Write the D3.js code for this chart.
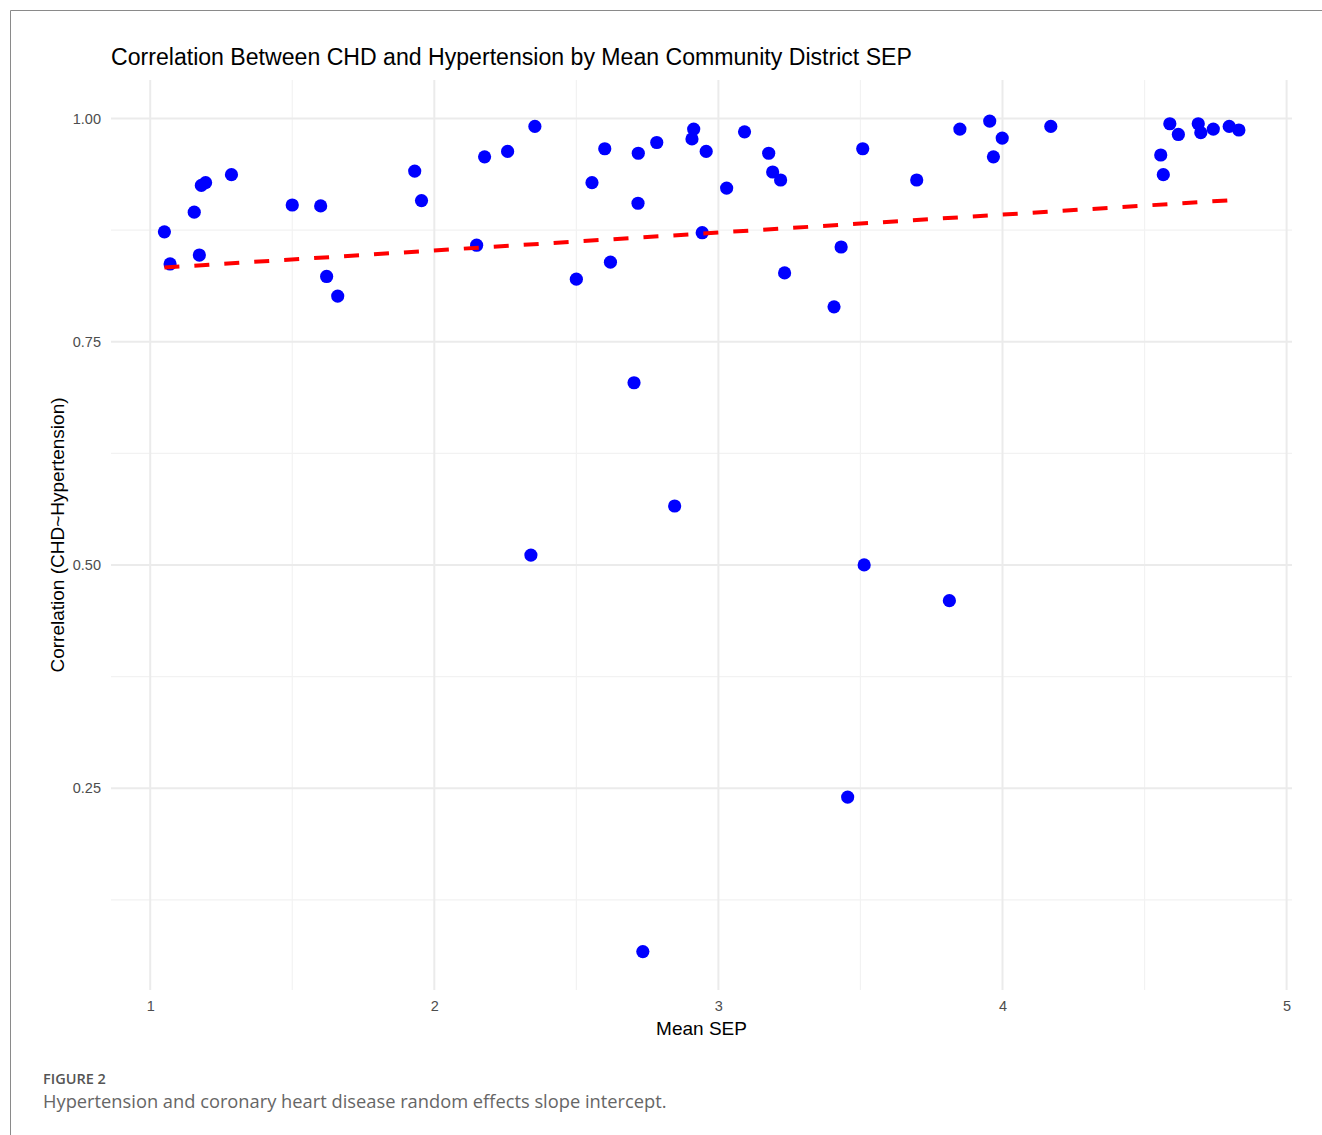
<!DOCTYPE html>
<html>
<head>
<meta charset="utf-8">
<script src="https://cdn.jsdelivr.net/npm/d3@7"></script>
<style>
	body { margin: 0; background: #fff; }
	svg { display: block; }
</style>
</head>
<body>
<svg id="chart" width="1322" height="1135"></svg>
<script>
// Mean SEP for each community district
const meanSep = [
	1.050, 1.070, 1.155, 1.173, 1.180, 1.195, 1.286, 1.500, 1.600, 1.621,
	1.660, 1.931, 1.955, 2.149, 2.177, 2.258, 2.354, 2.340, 2.500, 2.555,
	2.600, 2.620, 2.703, 2.717, 2.718, 2.734, 2.783, 2.846, 2.907, 2.913,
	2.943, 2.957, 3.029, 3.092, 3.177, 3.191, 3.219, 3.233, 3.407, 3.432,
	3.455, 3.508, 3.513, 3.698, 3.813, 3.850, 3.955, 3.968, 3.999, 4.170,
	4.557, 4.566, 4.589, 4.619, 4.689, 4.698, 4.742, 4.798, 4.832
];
// correlation CHD ~ hypertension, same order
const correlation = [
	0.873, 0.837, 0.895, 0.847, 0.925, 0.928, 0.937, 0.903, 0.902, 0.823,
	0.801, 0.941, 0.908, 0.858, 0.957, 0.963, 0.991, 0.511, 0.820, 0.928,
	0.966, 0.839, 0.704, 0.905, 0.961, 0.067, 0.973, 0.566, 0.977, 0.988,
	0.872, 0.963, 0.922, 0.985, 0.961, 0.940, 0.931, 0.827, 0.789, 0.856,
	0.240, 0.966, 0.500, 0.931, 0.460, 0.988, 0.997, 0.957, 0.978, 0.991,
	0.959, 0.937, 0.994, 0.982, 0.994, 0.984, 0.988, 0.991, 0.987
];
// fitted line (lm) end points
const trendX = [1.050, 4.832];
const trendY = [0.833, 0.909];

const xTicks = [1, 2, 3, 4, 5];
const xMinor = [1.5, 2.5, 3.5, 4.5];
const yTicks = [0.25, 0.50, 0.75, 1.00];
const yMinor = [0.125, 0.375, 0.625, 0.875];

const titleText = 'Correlation Between CHD and Hypertension by Mean Community District SEP';
const xTitle = 'Mean SEP';
const yTitle = 'Correlation (CHD~Hypertension)';
const figLabel = 'FIGURE 2';
const figCaption = 'Hypertension and coronary heart disease random effects slope intercept.';

const panel = { left: 111, right: 1292, top: 80, bottom: 990 };
const sans = 'Liberation Sans, Arial, sans-serif';

const svg = d3.select('#chart');

// page frame (top and left rule)
svg.append('path')
	.attr('d', 'M10.5,1135 L10.5,10.5 L1322,10.5')
	.attr('fill', 'none')
	.attr('stroke', '#8a8a8a')
	.attr('stroke-width', 1);

const x = d3.scaleLinear()
	.domain([0.862, 5.019])
	.range([panel.left, panel.right]);

const y = d3.scaleLinear()
	.domain([0.024, 1.043])
	.range([panel.bottom, panel.top]);

const g = svg.append('g');

// minor grid
g.selectAll('.xminor').data(xMinor).enter().append('line')
	.attr('x1', d => x(d)).attr('x2', d => x(d))
	.attr('y1', panel.top).attr('y2', panel.bottom)
	.attr('stroke', '#f2f2f2').attr('stroke-width', 1.2);
g.selectAll('.yminor').data(yMinor).enter().append('line')
	.attr('y1', d => y(d)).attr('y2', d => y(d))
	.attr('x1', panel.left).attr('x2', panel.right)
	.attr('stroke', '#f2f2f2').attr('stroke-width', 1.2);

// major grid
g.selectAll('.xmajor').data(xTicks).enter().append('line')
	.attr('x1', d => x(d)).attr('x2', d => x(d))
	.attr('y1', panel.top).attr('y2', panel.bottom)
	.attr('stroke', '#ebebeb').attr('stroke-width', 2);
g.selectAll('.ymajor').data(yTicks).enter().append('line')
	.attr('y1', d => y(d)).attr('y2', d => y(d))
	.attr('x1', panel.left).attr('x2', panel.right)
	.attr('stroke', '#ebebeb').attr('stroke-width', 2);

// axes (labels only, ggplot minimal style)
const xAxis = d3.axisBottom(x).tickValues(xTicks).tickFormat(d3.format('d')).tickSize(0).tickPadding(0);
const yAxis = d3.axisLeft(y).tickValues(yTicks).tickFormat(d3.format('.2f')).tickSize(0).tickPadding(0);

const gx = svg.append('g')
	.attr('transform', `translate(0, ${panel.bottom + 11})`)
	.call(xAxis);
gx.select('.domain').remove();
gx.selectAll('text')
	.attr('dy', '0.71em')
	.attr('fill', '#4d4d4d')
	.style('font-family', sans)
	.style('font-size', '14.5px');

const gy = svg.append('g')
	.attr('transform', `translate(${panel.left - 10}, 0)`)
	.call(yAxis);
gy.select('.domain').remove();
gy.selectAll('text')
	.attr('fill', '#4d4d4d')
	.style('font-family', sans)
	.style('font-size', '14.5px');

// data points
const points = meanSep.map((v, i) => ({ sep: v, cor: correlation[i] }));
g.selectAll('circle').data(points).enter().append('circle')
	.attr('cx', d => x(d.sep))
	.attr('cy', d => y(d.cor))
	.attr('r', 6.6)
	.attr('fill', '#0000ff');

// trend line
const line = d3.line()
	.x(d => x(d[0]))
	.y(d => y(d[1]));

g.append('path')
	.datum(trendX.map((v, i) => [v, trendY[i]]))
	.attr('fill', 'none')
	.attr('stroke', '#ff0000')
	.attr('stroke-width', 4)
	.attr('stroke-dasharray', '15,15')
	.attr('d', line);

// titles
svg.append('text')
	.attr('x', panel.left)
	.attr('y', 65)
	.attr('fill', '#000')
	.style('font-family', sans)
	.style('font-size', '23.1px')
	.text(titleText);

svg.append('text')
	.attr('x', (panel.left + panel.right) / 2)
	.attr('y', 1035)
	.attr('text-anchor', 'middle')
	.attr('fill', '#000')
	.style('font-family', sans)
	.style('font-size', '19px')
	.text(xTitle);

svg.append('text')
	.attr('transform', `translate(64, ${(panel.top + panel.bottom) / 2}) rotate(-90)`)
	.attr('text-anchor', 'middle')
	.attr('fill', '#000')
	.style('font-family', sans)
	.style('font-size', '19px')
	.text(yTitle);

// figure caption
svg.append('text')
	.attr('x', 43)
	.attr('y', 1084)
	.attr('fill', '#555')
	.style('font-family', 'Open Sans, Noto Sans, sans-serif')
	.style('font-size', '14.5px')
	.style('font-weight', 600)
	.text(figLabel);

svg.append('text')
	.attr('x', 43)
	.attr('y', 1108)
	.attr('fill', '#666')
	.style('font-family', 'Open Sans, Noto Sans, sans-serif')
	.style('font-size', '18.3px')
	.text(figCaption);
</script>
</body>
</html>
